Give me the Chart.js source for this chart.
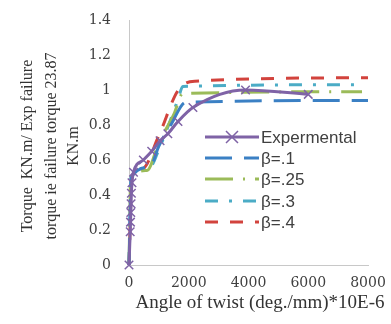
<!DOCTYPE html>
<html>
<head>
<meta charset="utf-8">
<script src="https://cdn.jsdelivr.net/npm/chart.js@4.4.0/dist/chart.umd.min.js"></script>
<style>
  html, body { margin: 0; background: #fff; }
</style>
</head>
<body>
<canvas id="torqueChart" width="391" height="324"></canvas>
<script>
// torque ratio vs angle of twist
const expX = [0, 40, 50, 60, 70, 80, 100, 150, 480, 760, 1040, 1300, 1640, 2140, 3900, 6000]
const expY = [0, 0.19, 0.245, 0.3, 0.35, 0.41, 0.47, 0.53, 0.6, 0.65, 0.71, 0.75, 0.82, 0.9, 1.0, 0.975]

const b1X = [0, 80, 700, 1000, 1400, 1900, 8000]
const b1Y = [0, 0.5, 0.56, 0.68, 0.8, 0.93, 0.94]

const b25X = [0, 60, 600, 1000, 1500, 1800, 7800]
const b25Y = [0, 0.5, 0.54, 0.7, 0.86, 0.98, 0.99]

const b3X = [0, 70, 700, 1000, 1650, 1800, 7700]
const b3Y = [0, 0.5, 0.56, 0.66, 0.95, 1.02, 1.03]

const b4X = [0, 100, 450, 1000, 1650, 2200, 8000]
const b4Y = [0, 0.5, 0.55, 0.74, 1.0, 1.05, 1.07]

const seriesNames = ['Expermental', 'β=.1', 'β=.25', 'β=.3', 'β=.4']
const xTicks = [0, 2000, 4000, 6000, 8000]
const yTicks = [0, 0.2, 0.4, 0.6, 0.8, 1, 1.2, 1.4]

const xTitle = 'Angle of twist (deg./mm)*10E-6'
const yTitle = ['Torque  KN.m/ Exp failure', 'torque ie failure torque 23.87', 'KN.m']

function toPoints(xs, ys) {
  return xs.map((x, i) => ({x: x, y: ys[i]}))
}

// legend sits inside the plot, drawn by hand
const legendInside = {
  id: 'legendInside',
  afterDraw(chart) {
    const ctx = chart.ctx
    const x0 = 205, len = 54
    const rows = [137, 158, 179, 201, 222]
    ctx.save()
    chart.data.datasets.forEach((ds, i) => {
      const y = rows[i]
      ctx.strokeStyle = ds.borderColor
      ctx.lineWidth = ds.borderWidth
      ctx.setLineDash(ds.borderDash || [])
      ctx.beginPath()
      ctx.moveTo(x0, y)
      ctx.lineTo(x0 + len, y)
      ctx.stroke()
      ctx.setLineDash([])
      if (ds.pointRadius > 0) {
        const r = ds.pointRadius
        ctx.lineWidth = 1.5
        ctx.beginPath()
        ctx.moveTo(x0 + len / 2 - r, y - r)
        ctx.lineTo(x0 + len / 2 + r, y + r)
        ctx.moveTo(x0 + len / 2 - r, y + r)
        ctx.lineTo(x0 + len / 2 + r, y - r)
        ctx.stroke()
      }
      ctx.fillStyle = '#404040'
      ctx.font = '17px "Liberation Sans"'
      ctx.textBaseline = 'middle'
      ctx.fillText(ds.label, x0 + len + 2, y + 1)
    })
    ctx.restore()
  }
}

// axis titles
const axisTitles = {
  id: 'axisTitles',
  afterDraw(chart) {
    const ctx = chart.ctx
    ctx.save()
    ctx.fillStyle = '#333'
    ctx.font = '19px "Liberation Serif"'
    ctx.textAlign = 'center'
    ctx.textBaseline = 'middle'
    ctx.fillText(xTitle, 260, 303)

    ctx.font = '16px "Liberation Serif"'
    const cols = [28, 52, 74]
    yTitle.forEach((line, i) => {
      ctx.save()
      ctx.translate(cols[i], 146)
      ctx.rotate(-Math.PI / 2)
      ctx.fillText(line, 0, 0)
      ctx.restore()
    })
    ctx.restore()
  }
}

new Chart('torqueChart', {
  type: 'scatter',
  data: {
    datasets: [
      {
        label: seriesNames[0],
        data: toPoints(expX, expY),
        showLine: true,
        borderColor: '#7f63a6',
        backgroundColor: '#7f63a6',
        borderWidth: 3,
        pointStyle: 'crossRot',
        pointRadius: 6,
        pointBorderWidth: 1.5,
        cubicInterpolationMode: 'monotone',
        clip: 12,
        order: 1
      },
      {
        label: seriesNames[1],
        data: toPoints(b1X, b1Y),
        showLine: true,
        borderColor: '#3b80c4',
        borderWidth: 3,
        borderDash: [27, 12],
        pointRadius: 0,
        cubicInterpolationMode: 'monotone',
        clip: 12,
        order: 2
      },
      {
        label: seriesNames[2],
        data: toPoints(b25X, b25Y),
        showLine: true,
        borderColor: '#9bbb59',
        borderWidth: 3,
        borderDash: [28, 10, 2, 10],
        pointRadius: 0,
        cubicInterpolationMode: 'monotone',
        clip: 12,
        order: 3
      },
      {
        label: seriesNames[3],
        data: toPoints(b3X, b3Y),
        showLine: true,
        borderColor: '#4bacc6',
        borderWidth: 3,
        borderDash: [13, 11, 3, 11],
        pointRadius: 0,
        cubicInterpolationMode: 'monotone',
        clip: 12,
        order: 4
      },
      {
        label: seriesNames[4],
        data: toPoints(b4X, b4Y),
        showLine: true,
        borderColor: '#d2433d',
        borderWidth: 3,
        borderDash: [13, 12],
        pointRadius: 0,
        cubicInterpolationMode: 'monotone',
        clip: 12,
        order: 5
      }
    ]
  },
  options: {
    responsive: false,
    animation: false,
    layout: {padding: {top: 20, right: 23, left: 0, bottom: 0}},
    plugins: {
      legend: {display: false},
      tooltip: {enabled: false}
    },
    scales: {
      x: {
        type: 'linear',
        min: xTicks[0],
        max: xTicks[xTicks.length - 1],
        afterBuildTicks(scale) { scale.ticks = xTicks.map(v => ({value: v})) },
        afterFit(scale) {
          scale.height = 59
          scale.paddingLeft = 0
          scale.paddingRight = 0
        },
        grid: {display: false, drawTicks: false},
        border: {color: '#c8c8c8', width: 1},
        ticks: {
          padding: 10,
          color: '#404040',
          font: {family: 'DejaVu Serif', size: 14},
          callback: v => String(v)
        }
      },
      y: {
        min: yTicks[0],
        max: yTicks[yTicks.length - 1],
        afterBuildTicks(scale) { scale.ticks = yTicks.map(v => ({value: v})) },
        afterFit(scale) {
          scale.width = 129
          scale.paddingTop = 0
          scale.paddingBottom = 0
        },
        grid: {display: false, drawTicks: false},
        border: {color: '#c8c8c8', width: 1},
        ticks: {
          padding: 18,
          color: '#404040',
          font: {family: 'DejaVu Serif', size: 14},
          callback: v => String(v)
        }
      }
    }
  },
  plugins: [legendInside, axisTitles]
})
</script>
</body>
</html>
